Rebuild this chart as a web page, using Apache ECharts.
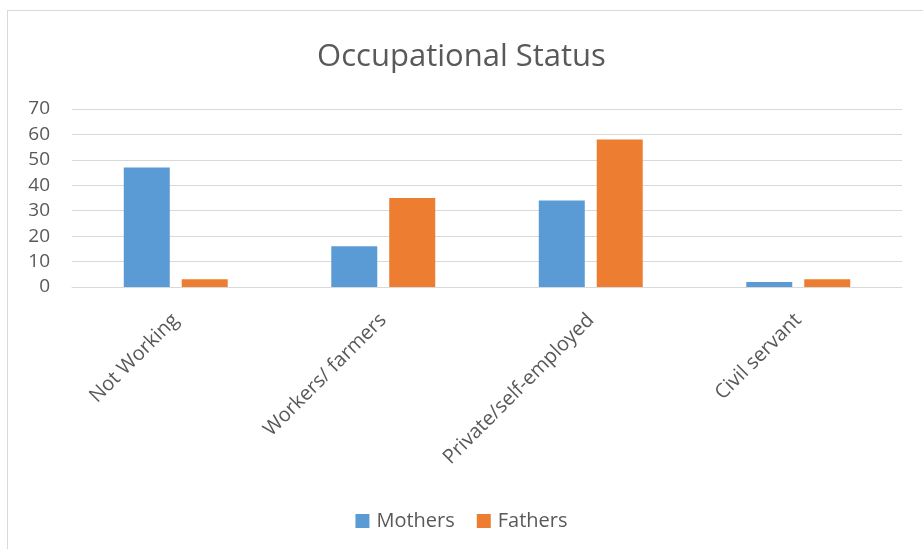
<!DOCTYPE html>
<html>
<head>
<meta charset="utf-8">
<script src="https://cdn.jsdelivr.net/npm/echarts@6/dist/echarts.min.js"></script>
<style>
  html, body { margin: 0; padding: 0; background: #fff; }
  #frame {
    position: absolute; left: 7px; top: 10px; width: 940px; height: 560px;
    border-top: 1px solid #d9d9d9; border-left: 1px solid #d9d9d9;
  }
  #chart { width: 923px; height: 549px; position: absolute; left: 0; top: 0; }
</style>
</head>
<body>
<div id="frame"></div>
<div id="chart"></div>
<script>
// categories and values
const categories = ['Not Working', 'Workers/ farmers', 'Private/self-employed', 'Civil servant']
const mothers = [47, 16, 34, 2]
const fathers = [3, 35, 58, 3]
const yTicks = { min: 0, max: 70, step: 10 }

const textColor = '#595959'
const gridColor = '#d9d9d9'
const font = '"Open Sans", "Noto Sans", sans-serif'

const chart = echarts.init(document.getElementById('chart'))
chart.setOption({
  animation: false,
  title: {
    text: 'Occupational Status',
    left: 'center',
    top: 37,
    textStyle: { color: textColor, fontFamily: font, fontSize: 31, fontWeight: 'normal' }
  },
  legend: {
    bottom: 13,
    left: 'center',
    itemWidth: 14,
    itemHeight: 14,
    itemGap: 22,
    icon: 'rect',
    textStyle: { color: textColor, fontFamily: font, fontSize: 20, padding: [0, 0, 0, 2] },
    data: ['Mothers', 'Fathers']
  },
  grid: { left: 72, right: 21, top: 109, bottom: 262, containLabel: false },
  xAxis: {
    type: 'category',
    data: categories,
    axisLine: { lineStyle: { color: gridColor, width: 1 } },
    axisTick: { show: false },
    axisLabel: {
      rotate: 45,
      interval: 0,
      margin: 30,
      color: textColor,
      fontFamily: font,
      fontSize: 20
    }
  },
  yAxis: {
    type: 'value',
    min: yTicks.min,
    max: yTicks.max,
    interval: yTicks.step,
    axisLine: { show: false },
    axisTick: { show: false },
    splitLine: { lineStyle: { color: gridColor, width: 1 } },
    axisLabel: { color: textColor, fontFamily: font, fontSize: 19, margin: 22 }
  },
  series: [
    {
      name: 'Mothers',
      type: 'bar',
      data: mothers,
      barWidth: 46,
      barGap: '26%',
      itemStyle: { color: '#5b9bd5' }
    },
    {
      name: 'Fathers',
      type: 'bar',
      data: fathers,
      barWidth: 46,
      itemStyle: { color: '#ed7d31' }
    }
  ]
})
</script>
</body>
</html>
